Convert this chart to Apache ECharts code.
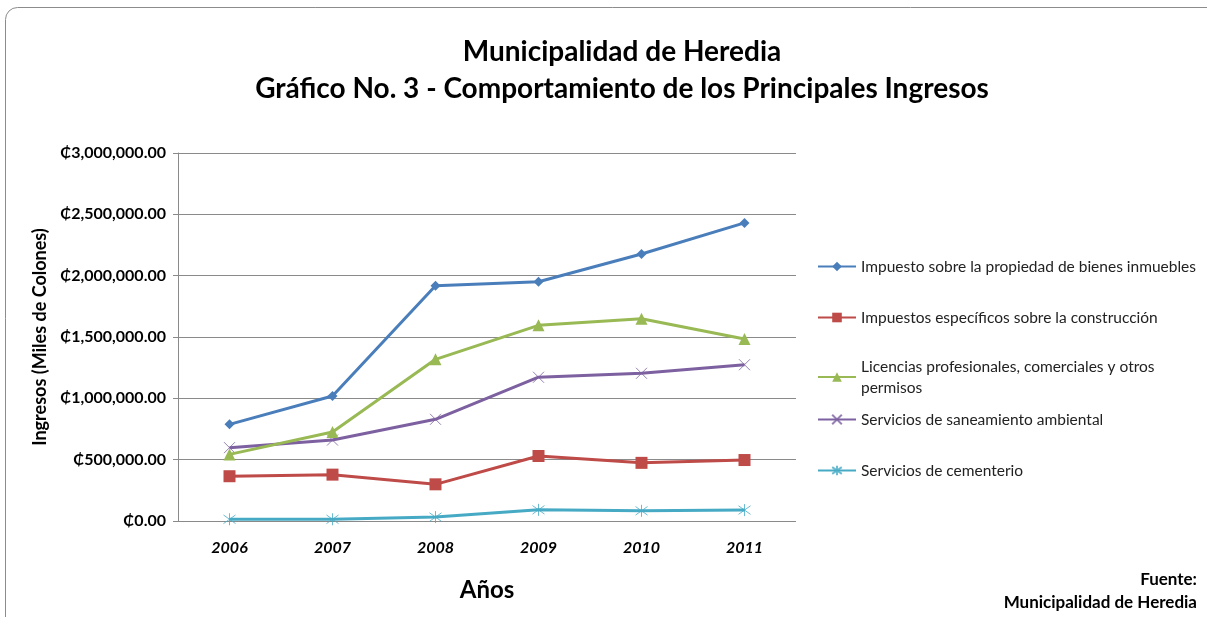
<!DOCTYPE html>
<html>
<head>
<meta charset="utf-8">
<script src="https://cdn.jsdelivr.net/npm/echarts@6/dist/echarts.min.js"></script>
<style>
  html, body { margin: 0; padding: 0; background: #fff; }
  #chart { width: 1207px; height: 617px; }
</style>
</head>
<body>
<div id="chart"></div>
<script>
// datos
const years = ['2006', '2007', '2008', '2009', '2010', '2011']
const seriesNames = [
  'Impuesto sobre la propiedad de bienes inmuebles',
  'Impuestos específicos sobre la construcción',
  'Licencias profesionales, comerciales y otros permisos',
  'Servicios de saneamiento ambiental',
  'Servicios de cementerio'
]
const bienesInmuebles = [788000, 1019000, 1918000, 1950000, 2177000, 2430000]
const construccion = [365000, 378000, 299000, 530000, 474000, 497000]
const licencias = [543000, 726000, 1318000, 1595000, 1649000, 1483000]
const saneamiento = [598000, 660000, 829000, 1172000, 1204000, 1274000]
const cementerio = [14000, 14000, 32000, 91000, 83000, 89000]
const yTicks = [0, 500000, 1000000, 1500000, 2000000, 2500000, 3000000]

const font = 'Lato, "Open Sans", "DejaVu Sans", sans-serif'
const colors = ['#4A7EBB', '#BE4B48', '#98B954', '#7D60A0', '#46AAC5']
const values = [bienesInmuebles, construccion, licencias, saneamiento, cementerio]

const symbols = [
  'diamond',
  'rect',
  'triangle',
  'path://M0,0L10,10M10,0L0,10',
  'path://M0,0L10,10M10,0L0,10M5,-2L5,12'
]
const symbolSizes = [10, 12, 12, 11, 12]

const fmtColon = (v) => '₵' + v.toLocaleString('en-US', { minimumFractionDigits: 2, maximumFractionDigits: 2 })

const myChart = echarts.init(document.getElementById('chart'))

// leyendas separadas para controlar la posición de cada una
const legendTops = [251, 302, 351, 404, 455]
const legends = seriesNames.map((name, i) => ({
  data: [name],
  orient: 'vertical',
  left: 812,
  top: legendTops[i],
  itemWidth: 38,
  itemHeight: 12,
  itemGap: 0,
  textStyle: { fontFamily: font, fontSize: 15.5, color: '#222', lineHeight: 21 },
  formatter: (n) => n === seriesNames[2] ? 'Licencias profesionales, comerciales y otros\npermisos' : n
}))

const option = {
  backgroundColor: '#fff',
  animation: false,
  title: {
    text: 'Municipalidad de Heredia\nGráfico No. 3 - Comportamiento de los Principales Ingresos',
    left: 617,
    top: 28,
    textAlign: 'center',
    textStyle: { fontFamily: font, fontSize: 28, fontWeight: 'bold', color: '#000', lineHeight: 37 }
  },
  legend: legends,
  grid: { left: 178, right: 411, top: 153, bottom: 96 },
  xAxis: {
    type: 'category',
    data: years,
    boundaryGap: true,
    name: 'Años',
    nameLocation: 'middle',
    nameGap: 57,
    nameTextStyle: { fontFamily: font, fontSize: 24, fontWeight: 'bold', color: '#000' },
    axisLine: { show: false },
    axisTick: { show: false },
    axisLabel: { fontFamily: font, fontSize: 16, fontWeight: 'bold', fontStyle: 'italic', color: '#000', margin: 19 }
  },
  yAxis: {
    type: 'value',
    min: 0,
    max: 3000000,
    interval: 500000,
    name: 'Ingresos (Miles de Colones)',
    nameLocation: 'middle',
    nameGap: 126,
    nameTextStyle: { fontFamily: font, fontSize: 18, fontWeight: 'bold', color: '#000' },
    axisLine: { show: true, lineStyle: { color: '#8a8a8a', width: 1 } },
    axisTick: { show: true, length: 5, lineStyle: { color: '#8a8a8a' } },
    splitLine: { show: true, lineStyle: { color: '#8a8a8a', width: 1 } },
    axisLabel: {
      fontFamily: font, fontSize: 16, fontWeight: 'bold', color: '#000', margin: 12,
      formatter: (v) => yTicks.includes(v) ? fmtColon(v) : ''
    }
  },
  graphic: [
    {
      type: 'rect',
      shape: { x: 5.5, y: 7.5, width: 1220, height: 640, r: 12 },
      style: { fill: 'none', stroke: '#8c8c8c', lineWidth: 1 },
      z: -1
    },
    {
      type: 'text',
      x: 1197,
      y: 580,
      style: { text: 'Fuente:', align: 'right', verticalAlign: 'middle', font: 'bold 17px ' + font, fill: '#000' }
    },
    {
      type: 'text',
      x: 1197,
      y: 603,
      style: { text: 'Municipalidad de Heredia', align: 'right', verticalAlign: 'middle', font: 'bold 17px ' + font, fill: '#000' }
    }
  ],
  series: seriesNames.map((name, i) => ({
    name,
    type: 'line',
    data: values[i],
    symbol: symbols[i],
    symbolSize: symbolSizes[i],
    lineStyle: { color: colors[i], width: 3 },
    itemStyle: i >= 3
      ? { color: colors[i], borderColor: colors[i], borderWidth: 1, opacity: 0.8 }
      : { color: colors[i] },
    z: 10 - i
  }))
}

myChart.setOption(option)
window.addEventListener('resize', () => myChart.resize())
</script>
</body>
</html>
